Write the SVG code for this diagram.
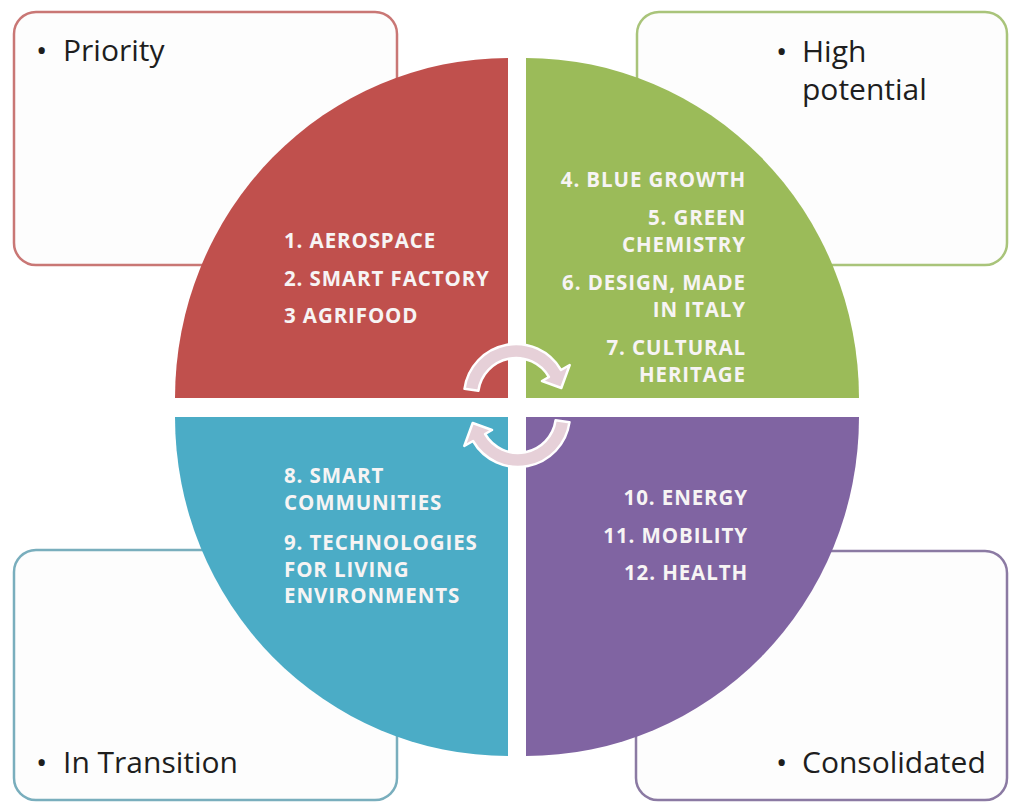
<svg xmlns="http://www.w3.org/2000/svg" width="1009" height="802" viewBox="0 0 1009 802">
<style>
.box{fill:#fdfdfd;stroke-width:2.5}
.lbl{font-family:"Open Sans","Liberation Sans",sans-serif;font-size:30px;fill:#1e1e1e}
.q{font-family:"Open Sans","Liberation Sans",sans-serif;font-size:20.5px;font-weight:700;letter-spacing:0.9px;fill:#f7f4f4}
.r{text-anchor:end}
.arr{fill:#e6d0d8;stroke:#ffffff;stroke-width:2.5;stroke-linejoin:round}
</style>
<rect width="1009" height="802" fill="#ffffff"/>
<g id="box-priority">
<rect class="box" x="14" y="12" width="383" height="253" rx="22" stroke="#c97775"/>
<text class="lbl" y="61"><tspan x="36">•</tspan><tspan x="63">Priority</tspan></text>
</g>
<g id="box-high-potential">
<rect class="box" x="637" y="12" width="370" height="253" rx="22" stroke="#a9c47a"/>
<text class="lbl" y="62"><tspan x="776">•</tspan><tspan x="802">High</tspan></text>
<text class="lbl" x="802" y="100">potential</text>
</g>
<g id="box-in-transition">
<rect class="box" x="14" y="550" width="383" height="250" rx="22" stroke="#79aebd"/>
<text class="lbl" y="773"><tspan x="36">•</tspan><tspan x="63">In Transition</tspan></text>
</g>
<g id="box-consolidated">
<rect class="box" x="636" y="551" width="371" height="249" rx="22" stroke="#8b7aa3"/>
<text class="lbl" y="773"><tspan x="776">•</tspan><tspan x="802">Consolidated</tspan></text>
</g>
<g id="q-red">
<path d="M508 398 L175 398 A333 340 0 0 1 508 58 Z" fill="#c0504d"/>
<text class="q" x="284" y="248">1. AEROSPACE</text>
<text class="q" x="284" y="286">2. SMART FACTORY</text>
<text class="q" x="284" y="323">3 AGRIFOOD</text>
</g>
<g id="q-green">
<path d="M526 398 L526 58 A333 340 0 0 1 859 398 Z" fill="#9bbb59"/>
<text class="q r" x="746" y="187">4. BLUE GROWTH</text>
<text class="q r" x="746" y="225">5. GREEN</text>
<text class="q r" x="746" y="252">CHEMISTRY</text>
<text class="q r" x="746" y="290">6.  DESIGN, MADE</text>
<text class="q r" x="746" y="317">IN ITALY</text>
<text class="q r" x="746" y="355">7. CULTURAL</text>
<text class="q r" x="746" y="382">HERITAGE</text>
</g>
<g id="q-blue">
<path d="M508 417 L508 756 A333 339 0 0 1 175 417 Z" fill="#4bacc6"/>
<text class="q" x="284" y="483">8. SMART</text>
<text class="q" x="284" y="510">COMMUNITIES</text>
<text class="q" x="284" y="550">9. TECHNOLOGIES</text>
<text class="q" x="284" y="577">FOR LIVING</text>
<text class="q" x="284" y="603">ENVIRONMENTS</text>
</g>
<g id="q-purple">
<path d="M526 417 L859 417 A333 339 0 0 1 526 756 Z" fill="#8064a2"/>
<text class="q r" x="748" y="505">10. ENERGY</text>
<text class="q r" x="748" y="543">11. MOBILITY</text>
<text class="q r" x="748" y="580">12. HEALTH</text>
</g>
<g id="connectors">
<path id="arrow-top" class="arr" d="M464.5 388.8 A52 52 0 0 1 561 370 L569.7 365 L561.3 388 L542 381 L548.9 377 A38 38 0 0 0 478.4 390.7 Z"/>
<path id="arrow-bottom" class="arr" transform="rotate(180 517 405.5)" d="M464.5 388.8 A52 52 0 0 1 561 370 L569.7 365 L561.3 388 L542 381 L548.9 377 A38 38 0 0 0 478.4 390.7 Z"/>
</g>
</svg>
